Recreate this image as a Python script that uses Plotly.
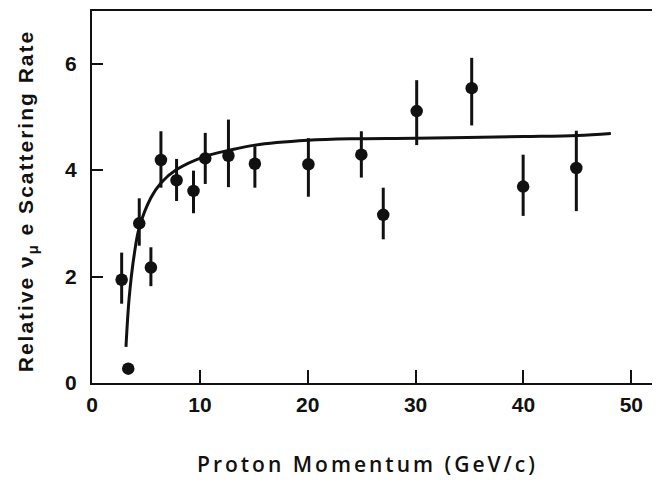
import plotly.graph_objects as go

# Data points (proton momentum GeV/c, relative rate, error up, error down)
momentum = [2.75, 4.38, 5.46, 6.39, 7.84, 9.41, 10.5, 12.65, 15.1, 20.06, 24.97, 27.0, 30.1, 35.2, 39.97, 44.9]
rate = [1.94, 3.00, 2.17, 4.19, 3.81, 3.61, 4.22, 4.27, 4.12, 4.11, 4.29, 3.16, 5.11, 5.54, 3.69, 4.04]
err_plus = [0.51, 0.47, 0.38, 0.54, 0.40, 0.38, 0.48, 0.68, 0.33, 0.49, 0.44, 0.51, 0.58, 0.57, 0.60, 0.70]
err_minus = [0.45, 0.42, 0.35, 0.52, 0.39, 0.42, 0.48, 0.59, 0.45, 0.61, 0.43, 0.46, 0.64, 0.70, 0.55, 0.81]

# Extra point without error bar
low_momentum = [3.36]
low_rate = [0.27]

# Fitted curve
curve_x = [3.15, 3.45, 3.92, 4.38, 5.46, 6.39, 7.84, 10.5, 12.66, 15.1, 20.0, 24.0, 30.0, 40.0, 45.0, 48.1]
curve_y = [0.68, 1.61, 2.42, 2.92, 3.48, 3.76, 4.01, 4.26, 4.37, 4.47, 4.56, 4.59, 4.60, 4.63, 4.65, 4.69]

x_ticks = [0, 10, 20, 30, 40, 50]
y_ticks = [0, 2, 4, 6]

INK = "#111111"

fig = go.Figure()
fig.add_trace(go.Scatter(
    x=curve_x, y=curve_y, mode="lines", line=dict(color=INK, width=3, shape="spline"),
    hoverinfo="skip", showlegend=False))
fig.add_trace(go.Scatter(
    x=momentum, y=rate, mode="markers",
    marker=dict(color=INK, size=12.5),
    error_y=dict(type="data", array=err_plus, arrayminus=err_minus, symmetric=False,
                 color=INK, thickness=3, width=0),
    showlegend=False))
fig.add_trace(go.Scatter(
    x=low_momentum, y=low_rate, mode="markers",
    marker=dict(color=INK, size=12.5), showlegend=False))

axis_font = dict(family="Liberation Sans", size=21, color=INK, weight="bold")

fig.update_xaxes(range=[0, 52.1], tickvals=x_ticks, ticks="inside", ticklen=13, tickwidth=2,
                 tickcolor=INK, showline=True, linewidth=2, linecolor=INK, mirror=True,
                 showgrid=False, zeroline=False, tickfont=axis_font, ticklabelstandoff=2)
fig.update_yaxes(range=[0, 6.99], tickvals=y_ticks, ticks="inside", ticklen=11, tickwidth=2,
                 tickcolor=INK, showline=True, linewidth=2, linecolor=INK, mirror=True,
                 showgrid=False, zeroline=False, tickfont=axis_font, ticklabelstandoff=9)

fig.add_annotation(
    text='<span style="letter-spacing:2px">Relative ν<sub>μ</sub> e Scattering Rate</span>',
    textangle=-90, xref="paper", yref="paper", x=-0.142, y=0.489, showarrow=False,
    font=dict(family="Liberation Sans", size=21, color=INK, weight="bold"))
fig.add_annotation(
    text='<span style="letter-spacing:3px">Proton Momentum (GeV/c)</span>',
    xref="paper", yref="paper", x=0.49, y=-0.262, showarrow=False,
    font=dict(family="Open Sans", size=21, color=INK, weight=600))

# Page body has an 8px default margin; size the figure so the plot area lands
# at the reference position within the 660x495 window.
fig.update_layout(width=652, height=487, margin=dict(l=84, r=6, t=1, b=112),
                  plot_bgcolor="white", paper_bgcolor="white")

fig.write_html("out.html")
